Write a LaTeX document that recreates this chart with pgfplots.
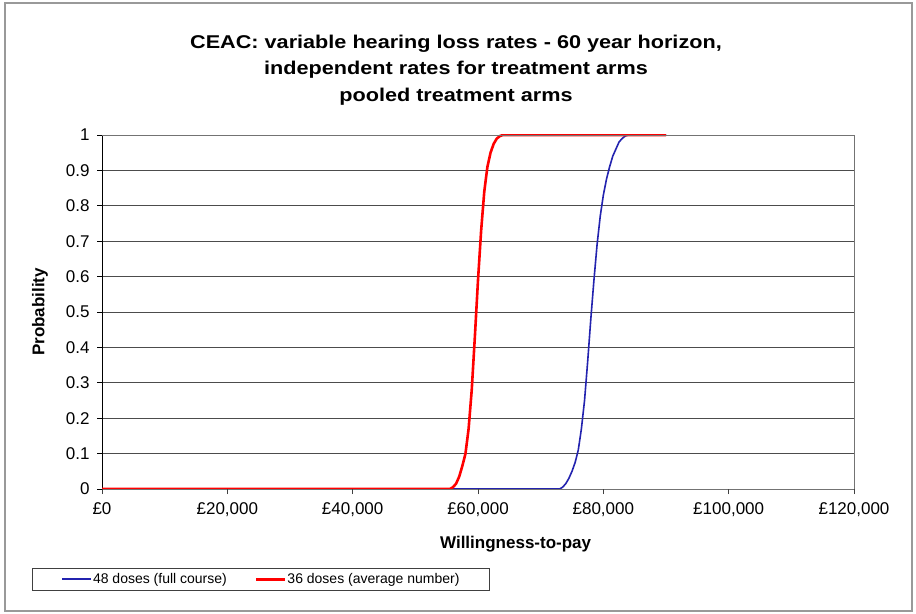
\documentclass[border=0pt]{standalone}
\usepackage{fontspec}
\setmainfont{Liberation Sans}
\newfontfamily\titlefont[FakeStretch=1.17]{Liberation Sans}
\usepackage{pgfplots}
\pgfplotsset{compat=1.18}
\definecolor{navyline}{RGB}{35,35,175}
\begin{document}
\begin{tikzpicture}
\useasboundingbox (0,0) rectangle (916bp,614bp);
\fill[white] (0,0) rectangle (916bp,614bp);
\begin{axis}[
  at={(102bp,125bp)}, anchor=south west,
  scale only axis, width=752bp, height=354bp,
  xmin=0, xmax=120000, ymin=0, ymax=1,
  axis lines*=left,
  xtick={0,20000,40000,60000,80000,100000,120000},
  xticklabels={£0,{£20,000},{£40,000},{£60,000},{£80,000},{£100,000},{£120,000}},
  ytick={0,0.1,0.2,0.3,0.4,0.5,0.6,0.7,0.8,0.9,1},
  yticklabels={0,0.1,0.2,0.3,0.4,0.5,0.6,0.7,0.8,0.9,1},
  scaled x ticks=false,
  tick label style={font=\fontsize{17bp}{20bp}\selectfont},
  xticklabel style={yshift=-5bp},
  yticklabel style={xshift=-4bp},
  tick align=outside,
  major tick length=5bp,
  tick style={black, line width=0.9bp},
  x axis line style={black!55, line width=0.9bp, -},
  y axis line style={black, line width=0.9bp, -},
  ymajorgrids, major grid style={black!70, line width=0.9bp},
  after end axis/.code={
    \draw[black!55, line width=0.9bp] (rel axis cs:0,1) -- (rel axis cs:1,1) -- (rel axis cs:1,0);
    \foreach \t in {0,20000,40000,60000,80000,100000,120000}
      {\draw[black!75, line width=0.9bp] (axis cs:\t,0) -- ++(0bp,-5bp);}
    \foreach \t in {0,0.1,0.2,0.3,0.4,0.5,0.6,0.7,0.8,0.9,1}
      {\draw[black, line width=0.9bp] (axis cs:0,\t) -- ++(-5bp,0bp);}
  },
  xlabel={Willingness-to-pay},
  ylabel={Probability},
  label style={font=\fontsize{17bp}{20bp}\selectfont\bfseries},
  xlabel style={at={(axis description cs:0.55,0)}, anchor=center, yshift=-55bp},
  ylabel style={at={(axis description cs:0,0.5)}, anchor=center, yshift=62bp},
  legend columns=2,
  legend style={at={(-0.0931,-0.2232)}, anchor=north west,
    draw=black!75, line width=0.9bp,
    font=\fontsize{14bp}{16bp}\selectfont,
    inner xsep=29bp, inner ysep=4bp,
    nodes={inner sep=1bp},
    /tikz/every even column/.append style={column sep=27bp}},
  legend image code/.code={\draw[#1] (0bp,0bp) -- (29bp,0bp);},
]
\addplot[navyline, line width=1.6bp, line join=round] coordinates {
(0,0) (73000,0) (73500,0.005) (74000,0.015) (74500,0.03) (75000,0.05) (75500,0.075) (76000,0.11) (76500,0.17) (77000,0.25) (77500,0.36) (78000,0.48) (78500,0.59) (79000,0.69) (79500,0.77) (80000,0.83) (80500,0.875) (81000,0.91) (81500,0.94) (82000,0.96) (82500,0.98) (83000,0.99) (83500,0.997) (84000,1) (90000,1)
};
\addlegendentry{48 doses (full course)}
\addplot[red, line width=2.6bp, line join=round] coordinates {
(0,0) (55500,0) (56000,0.005) (56500,0.015) (57000,0.035) (57500,0.065) (58000,0.1) (58500,0.17) (59000,0.28) (59500,0.43) (60000,0.59) (60500,0.73) (61000,0.84) (61500,0.91) (62000,0.95) (62500,0.975) (63000,0.99) (63500,0.997) (64000,1) (90000,1)
};
\addlegendentry{36 doses (average number)}
\end{axis}
\node[align=center, font=\titlefont\fontsize{18.5bp}{26.5bp}\selectfont\bfseries] at (456bp,544bp)
  {CEAC: variable hearing loss rates - 60 year horizon,\\independent rates for treatment arms\\pooled treatment arms};
\draw[black!40, line width=1.8bp] (5bp,3bp) rectangle (912bp,611bp);
\end{tikzpicture}
\end{document}
